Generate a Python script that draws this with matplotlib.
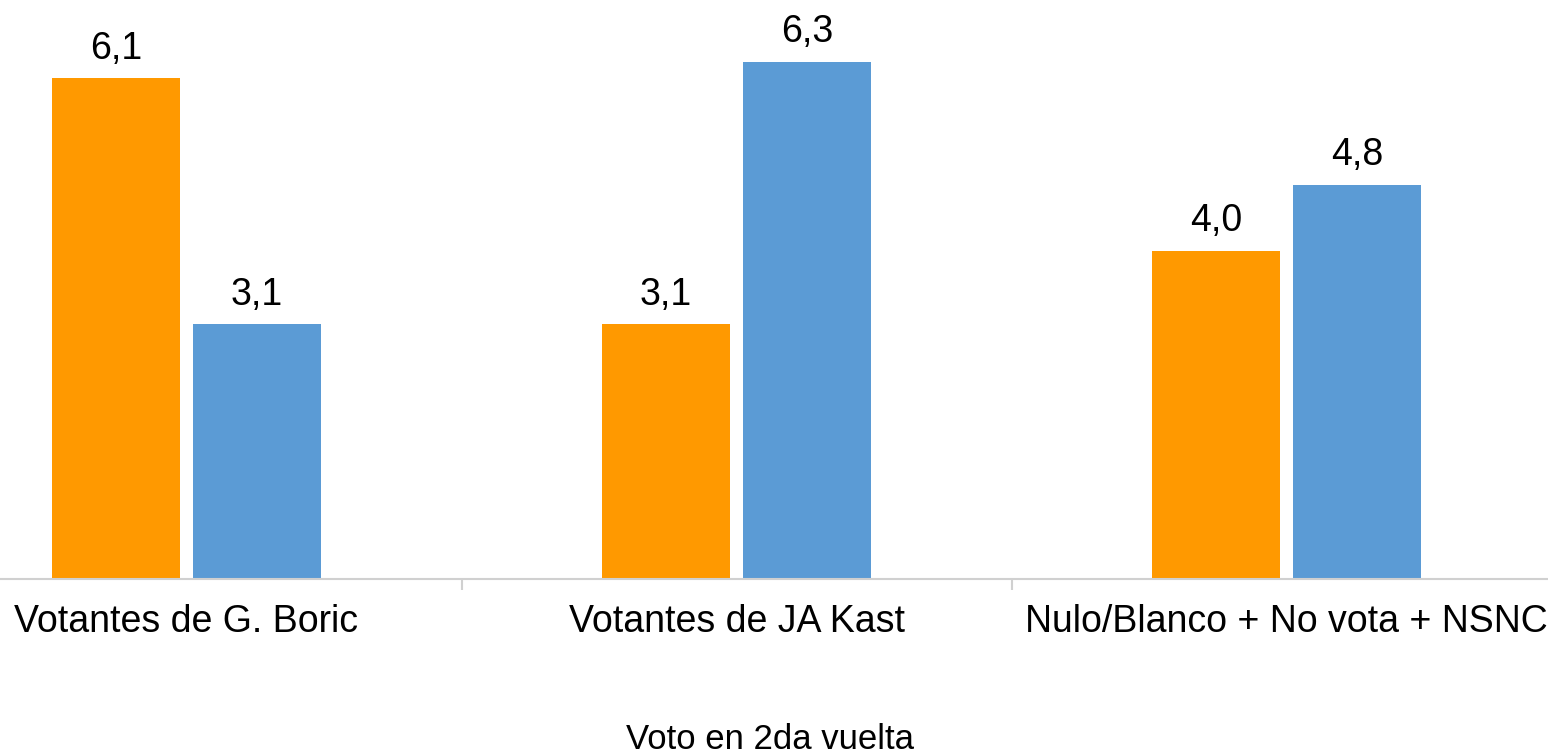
import matplotlib

matplotlib.use("Agg")
import matplotlib.pyplot as plt  # noqa: E402
import numpy as np  # noqa: E402

# grouped bars: two series per voter group
groups = ["Votantes de G. Boric", "Votantes de JA Kast", "Nulo/Blanco + No vota + NSNC"]
serie_a = [6.1, 3.1, 4.0]
serie_b = [3.1, 6.3, 4.8]
x_label = "Voto en 2da vuelta"

ORANGE = "#FF9900"
BLUE = "#5B9BD5"
AXIS_C = "#D0D0D0"

plt.rcParams.update({"font.family": ["Liberation Sans", "DejaVu Sans"], "font.size": 27})

fig = plt.figure(figsize=(15.48, 7.55), dpi=100)
ax = fig.add_axes([0, 0.2331, 1, 0.7613])

x = np.arange(len(groups))
w = 0.2327
off = 0.128
bars_a = ax.bar(x - off, serie_a, w, color=ORANGE)
bars_b = ax.bar(x + off, serie_b, w, color=BLUE)

# value labels above each bar, decimal comma
for bars in (bars_a, bars_b):
    for b in bars:
        h = b.get_height()
        ax.annotate(
            f"{h:.1f}".replace(".", ","),
            (b.get_x() + b.get_width() / 2, h),
            xytext=(0, 14),
            textcoords="offset points",
            ha="center",
            va="baseline",
            fontsize=27,
            annotation_clip=False,
        )

ax.set_xlim(-0.339, 2.475)
ax.set_ylim(0, 7)
ax.set_yticks([])
ax.set_xticks(x)
ax.set_xticklabels(groups)
ax.set_xticks([0.5, 1.5], minor=True)
ax.tick_params(axis="x", which="major", length=0, pad=18)
ax.tick_params(axis="x", which="minor", length=8, width=1.5, color=AXIS_C)
for s in ("left", "right", "top"):
    ax.spines[s].set_visible(False)
ax.spines["bottom"].set_color(AXIS_C)
ax.spines["bottom"].set_linewidth(1.5)

fig.text(770 / 1548, 6 / 755, x_label, ha="center", va="baseline", fontsize=25)

fig.savefig("out.png", dpi=100)
